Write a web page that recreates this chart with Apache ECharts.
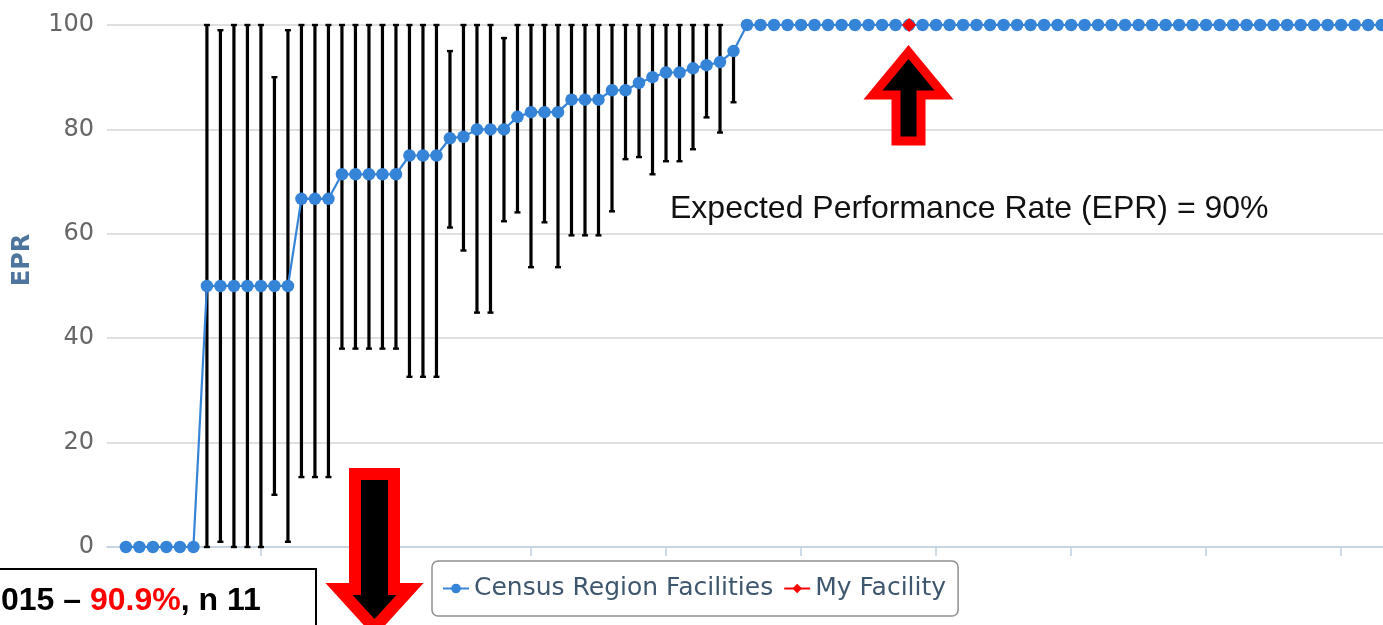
<!DOCTYPE html>
<html lang="en">
  <head>
    <meta charset="UTF-8" />
    <title>EPR</title>
    <script src="https://cdn.jsdelivr.net/npm/echarts@6.0.0/dist/echarts.min.js"></script>
    <style>
      html, body { margin: 0; padding: 0; background: #fff; }
    </style>
  </head>
  <body>
    <div id="main" style="width: 1383px; height: 625px"></div>
    <script type="text/javascript">
      // EPR per facility, sorted, with confidence limits
      const eprValues = [
        0, 0, 0, 0, 0, 0,
        50, 50, 50, 50, 50, 50, 50,
        66.7, 66.7, 66.7,
        71.4, 71.4, 71.4, 71.4, 71.4,
        75, 75, 75,
        78.3, 78.6,
        80, 80, 80,
        82.4,
        83.3, 83.3, 83.3,
        85.7, 85.7, 85.7,
        87.5, 87.5, 88.9, 90, 90.9, 90.9, 91.7, 92.3, 92.9, 95,
        100, 100, 100, 100, 100, 100, 100, 100, 100, 100, 100, 100,
        100, 100, 100, 100, 100, 100, 100, 100, 100, 100, 100, 100,
        100, 100, 100, 100, 100, 100, 100, 100, 100, 100, 100, 100,
        100, 100, 100, 100, 100, 100, 100, 100, 100, 100, 100, 100
      ];
      const eprLow = [
        0, 0, 0, 0, 0, 0,
        0, 1, 0, 0, 0, 10, 1,
        13.4, 13.4, 13.4,
        38, 38, 38, 38, 38,
        32.6, 32.6, 32.6,
        61.2, 56.8,
        44.9, 44.9, 62.4,
        64.1,
        53.6, 62.2, 53.6,
        59.7, 59.7, 59.7,
        64.3, 74.3, 74.7, 71.4, 73.9, 73.9, 76.2, 82.3, 79.4, 85.2,
        100, 100, 100, 100, 100, 100, 100, 100, 100, 100, 100, 100,
        100, 100, 100, 100, 100, 100, 100, 100, 100, 100, 100, 100,
        100, 100, 100, 100, 100, 100, 100, 100, 100, 100, 100, 100,
        100, 100, 100, 100, 100, 100, 100, 100, 100, 100, 100, 100
      ];
      const eprHigh = [
        0, 0, 0, 0, 0, 0,
        100, 99, 100, 100, 100, 90, 99,
        100, 100, 100,
        100, 100, 100, 100, 100,
        100, 100, 100,
        95, 100,
        100, 100, 97.5,
        100,
        100, 100, 100,
        100, 100, 100,
        100, 100, 100, 100, 100, 100, 100, 100, 100, 95,
        100, 100, 100, 100, 100, 100, 100, 100, 100, 100, 100, 100,
        100, 100, 100, 100, 100, 100, 100, 100, 100, 100, 100, 100,
        100, 100, 100, 100, 100, 100, 100, 100, 100, 100, 100, 100,
        100, 100, 100, 100, 100, 100, 100, 100, 100, 100, 100, 100
      ];
      // my facility: position in the ranking and its EPR
      const myFacilityRank = 58;
      const myFacilityEpr = 100;
      const xTicks = [10, 20, 30, 40, 50, 60, 70, 80, 90];
      const yTicks = [0, 20, 40, 60, 80, 100];

      const blueData = eprValues.map((v, i) => [i, v]);
      const barData = eprValues.map((v, i) => [i, eprLow[i], eprHigh[i]]);

      const blue = '#3584d8';

      let myChart = echarts.init(document.getElementById('main'));

      let options = {
        animation: false,
        grid: { left: 107, top: 25, right: 0, bottom: 78, containLabel: false },
        xAxis: {
          type: 'value',
          min: -1.4,
          max: 93.1,
          axisLine: { lineStyle: { color: '#c0d0e0', width: 1.5 } },
          axisTick: {
            customValues: xTicks,
            length: 9,
            lineStyle: { color: '#c0d0e0', width: 1.5 }
          },
          axisLabel: { show: false },
          splitLine: { show: false }
        },
        yAxis: {
          type: 'value',
          min: yTicks[0],
          max: yTicks[yTicks.length - 1],
          interval: 20,
          axisLine: { show: false },
          axisTick: { show: false },
          axisLabel: {
            margin: 13,
            color: '#666666',
            fontFamily: 'DejaVu Sans',
            fontSize: 24
          },
          splitLine: { lineStyle: { color: '#d4d4d4', width: 1.5 } }
        },
        legend: {
          data: [
            { name: 'Census Region Facilities' },
            { name: 'My Facility' }
          ],
          left: 432,
          top: 561,
          padding: [14, 12, 14, 10],
          itemGap: 10,
          itemWidth: 26,
          itemHeight: 12,
          borderColor: '#909090',
          borderWidth: 1.5,
          borderRadius: 6,
          textStyle: { color: '#3e576f', fontFamily: 'DejaVu Sans', fontSize: 25, lineHeight: 27 }
        },
        series: [
          {
            name: 'stems',
            type: 'custom',
            data: barData,
            silent: true,
            renderItem: (params, api) => {
              const lo = api.coord([api.value(0), api.value(1)]);
              const hi = api.coord([api.value(0), api.value(2)]);
              return {
                type: 'line',
                shape: { x1: lo[0], y1: lo[1], x2: hi[0], y2: hi[1] },
                style: { stroke: '#000', lineWidth: 3.2 }
              };
            }
          },
          {
            name: 'Census Region Facilities',
            type: 'line',
            data: blueData,
            color: blue,
            symbol: 'circle',
            symbolSize: 12.5,
            showAllSymbol: true,
            lineStyle: { color: blue, width: 2.2 },
            itemStyle: { color: blue }
          },
          {
            name: 'caps',
            type: 'custom',
            data: barData,
            silent: true,
            renderItem: (params, api) => {
              const lo = api.coord([api.value(0), api.value(1)]);
              const hi = api.coord([api.value(0), api.value(2)]);
              return {
                type: 'group',
                children: [
                  { type: 'rect', shape: { x: lo[0] - 3, y: lo[1] - 1.2, width: 6, height: 2.4 }, style: { fill: '#000' } },
                  { type: 'rect', shape: { x: hi[0] - 3, y: hi[1] - 1.2, width: 6, height: 2.4 }, style: { fill: '#000' } }
                ]
              };
            }
          },
          {
            name: 'My Facility',
            type: 'line',
            data: [[myFacilityRank, myFacilityEpr]],
            color: '#ff0000',
            symbol: 'diamond',
            symbolSize: 14,
            showSymbol: true,
            showAllSymbol: true,
            z: 5,
            lineStyle: { color: '#ff0000', width: 2 },
            itemStyle: { color: '#ff0000' }
          }
        ],
        graphic: [
          {
            type: 'text',
            x: 23,
            y: 260,
            rotation: Math.PI / 2,
            style: {
              text: 'EPR',
              fill: '#4d759e',
              font: 'bold 24px "DejaVu Sans"',
              align: 'center',
              verticalAlign: 'middle'
            }
          },
          {
            type: 'text',
            x: 670,
            y: 209,
            style: {
              text: 'Expected Performance Rate (EPR) = 90%',
              fill: '#111',
              font: '32px "Liberation Sans"',
              verticalAlign: 'middle'
            }
          },
          {
            type: 'rect',
            z: 100,
            shape: { x: -10, y: 569, width: 326, height: 80 },
            style: { fill: '#fff', stroke: '#000', lineWidth: 2 }
          },
          {
            type: 'text',
            z: 101,
            x: 1,
            y: 601,
            style: {
              text: '{a|015 – }{b|90.9%}{a|, n 11}',
              verticalAlign: 'middle',
              rich: {
                a: { fill: '#000', fontFamily: 'Liberation Sans', fontWeight: 'bold', fontSize: 32 },
                b: { fill: '#ff0000', fontFamily: 'Liberation Sans', fontWeight: 'bold', fontSize: 32 }
              }
            }
          },
          {
            type: 'polygon',
            z: 100,
            shape: { points: [[896, 141], [921, 141], [921, 95], [944, 95], [908.5, 52], [873, 95], [896, 95]] },
            style: { fill: '#000', stroke: '#ff0000', lineWidth: 9, lineJoin: 'miter' }
          },
          {
            type: 'polygon',
            z: 100,
            shape: { points: [[355, 474], [394, 474], [394, 589], [410, 589], [374.5, 628], [339, 589], [355, 589]] },
            style: { fill: '#000', stroke: '#ff0000', lineWidth: 12, lineJoin: 'miter' }
          }
        ]
      };

      myChart.setOption(options);
    </script>
  </body>
</html>
